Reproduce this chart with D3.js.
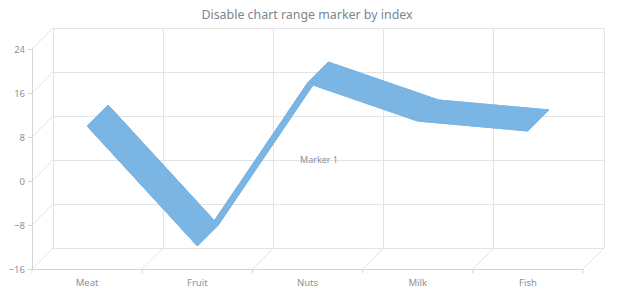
<!DOCTYPE html>
<html><head><meta charset="utf-8">
<script src="https://cdn.jsdelivr.net/npm/d3@7"></script>
<style>html,body{margin:0;padding:0;background:#fff;}svg{display:block;}</style>
</head><body>
<svg id="c" width="620" height="300"></svg>
<script>
const categories = ["Meat", "Fruit", "Nuts", "Milk", "Fish"];
const lowValues  = [10, -11.8, 17.8, 10.9, 9.1];
const highValues = [10, -11.8, 17.8, 10.9, 9.1];
const yTicks = [-16, -8, 0, 8, 16, 24];
const titleText = "Disable chart range marker by index";
const markerLabel = "Marker 1";
const markerValue = 0;

const svg = d3.select("#c");
const pLeft = 32, pRight = 583, pTop = 49, pBottom = 269;
const DX = 21, DY = -21;
const font = "'Noto Sans','DejaVu Sans',sans-serif";
const textCol = "#7c868e";
const labelCol = "#8a9198";
const gridCol = "#e3e3e3";
const axisCol = "#d4d4d4";

const x = d3.scaleBand().domain(categories).range([pLeft, pRight]).paddingInner(0).paddingOuter(0);
const y = d3.scaleLinear().domain([-16, 24]).range([pBottom, pTop]);
const cx = c => x(c) + x.bandwidth() / 2;
const bounds = categories.map(c => x(c)).concat([pRight]);

// title
svg.append("text").attr("x", 307).attr("y", 19).attr("text-anchor", "middle")
  .attr("font-family", font).attr("font-size", 12.4).attr("fill", textCol).text(titleText);

const g = svg.append("g");
g.append("g").selectAll("line").data(yTicks).join("line")
  .attr("x1", pLeft + DX).attr("x2", pRight + DX)
  .attr("y1", d => y(d) + DY).attr("y2", d => y(d) + DY)
  .attr("stroke", gridCol).attr("stroke-width", 1).attr("shape-rendering", "crispEdges");
g.append("g").selectAll("line").data(yTicks).join("line")
  .attr("x1", pLeft).attr("x2", pLeft + DX)
  .attr("y1", d => y(d)).attr("y2", d => y(d) + DY)
  .attr("stroke", gridCol).attr("stroke-width", 1);
g.append("g").selectAll("line").data(bounds).join("line")
  .attr("x1", d => d + DX).attr("x2", d => d + DX)
  .attr("y1", y(24) + DY).attr("y2", y(-16) + DY)
  .attr("stroke", gridCol).attr("stroke-width", 1).attr("shape-rendering", "crispEdges");
g.append("g").selectAll("line").data(bounds).join("line")
  .attr("x1", d => d).attr("x2", d => d + DX)
  .attr("y1", pBottom).attr("y2", pBottom + DY)
  .attr("stroke", gridCol).attr("stroke-width", 1);

// axes
const yAxis = d3.axisLeft(y).tickValues(yTicks).tickSize(4).tickPadding(3);
const ya = svg.append("g").attr("transform", `translate(${pLeft},0)`).call(yAxis);
ya.select(".domain").attr("stroke", axisCol).attr("d", `M0.5,${pTop}V${pBottom}`);
ya.selectAll(".tick line").attr("stroke", axisCol);
ya.selectAll(".tick text").attr("fill", labelCol).attr("font-family", font).attr("font-size", 9.5);

const xAxis = d3.axisBottom(x).tickSize(0).tickPadding(10);
const xa = svg.append("g").attr("transform", `translate(0,${pBottom})`).call(xAxis);
xa.select(".domain").attr("stroke", axisCol).attr("d", `M${pLeft},0.5H${pRight}`);
xa.selectAll(".tick text").attr("fill", labelCol).attr("font-family", font).attr("font-size", 9.5);
svg.append("g").selectAll("line").data(bounds).join("line")
  .attr("x1", d => d).attr("x2", d => d).attr("y1", pBottom).attr("y2", pBottom + 4)
  .attr("stroke", axisCol);

// 3D ribbon
const fill = "#7bb5e4";
const pts = categories.map((c, i) => ({ x: cx(c), lo: y(lowValues[i]), hi: y(highValues[i]) }));
const polys = [];
const face = (off) => pts.map(p => [p.x + off[0], p.hi + off[1]])
  .concat(pts.slice().reverse().map(p => [p.x + off[0], p.lo + off[1]]));
polys.push(face([DX, DY]));
for (let i = 0; i < pts.length - 1; i++) {
  const a = pts[i], b = pts[i + 1];
  polys.push([[a.x, a.hi], [b.x, b.hi], [b.x + DX, b.hi + DY], [a.x + DX, a.hi + DY]]);
  polys.push([[a.x, a.lo], [b.x, b.lo], [b.x + DX, b.lo + DY], [a.x + DX, a.lo + DY]]);
}
polys.push(face([0, 0]));
svg.append("g").selectAll("path").data(polys).join("path")
  .attr("d", d => "M" + d.map(p => p.join(",")).join("L") + "Z")
  .attr("fill", fill).attr("stroke", fill).attr("stroke-width", 0.6).attr("stroke-linejoin", "round");

// marker label
svg.append("text").attr("x", 300).attr("y", y(markerValue) + DY + 3)
  .attr("font-family", font).attr("font-size", 9).attr("fill", labelCol).text(markerLabel);
</script>
</body></html>
